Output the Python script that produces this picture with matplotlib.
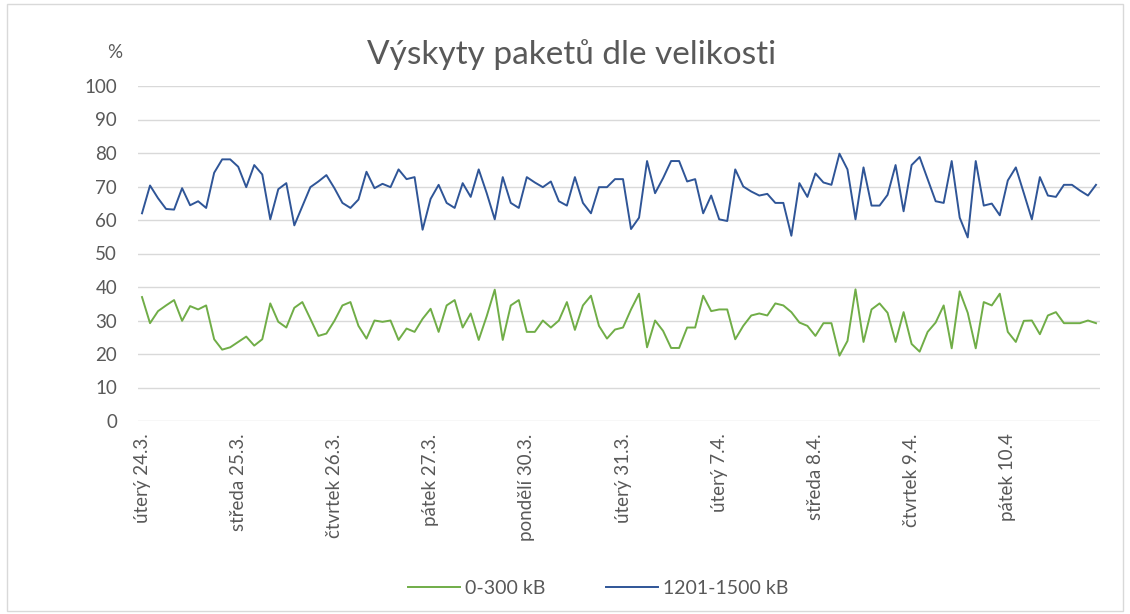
import numpy as np
import matplotlib.pyplot as plt
from matplotlib.patches import Rectangle

plt.rcParams['font.family'] = ['Lato', 'DejaVu Sans']

# podíl paketů 0-300 kB (%), 12 měření za den
small = [37.0, 29.2, 32.8, 34.5, 36.1, 29.9, 34.3, 33.3, 34.5, 24.4, 21.3, 22.0,
         23.6, 25.2, 22.5, 24.4, 35.1, 29.6, 27.9, 33.8, 35.5, 30.5, 25.4, 26.1,
         29.9, 34.5, 35.5, 28.4, 24.6, 30.0, 29.6, 30.0, 24.2, 27.6, 26.6, 30.5,
         33.5, 26.6, 34.5, 36.1, 27.9, 32.1, 24.2, 31.3, 39.2, 24.2, 34.5, 36.1,
         26.6, 26.6, 30.0, 27.9, 30.0, 35.5, 27.2, 34.5, 37.4, 28.4, 24.6, 27.3,
         27.9, 33.3, 38.0, 22.0, 30.0, 26.9, 21.8, 21.8, 27.9, 27.9, 37.4, 32.8,
         33.3, 33.3, 24.4, 28.4, 31.5, 32.1, 31.5, 35.1, 34.5, 32.5, 29.4, 28.4,
         25.4, 29.2, 29.2, 19.5, 23.9, 39.3, 23.6, 33.3, 35.1, 32.3, 23.6, 32.5,
         23.0, 20.7, 26.6, 29.4, 34.5, 21.7, 38.7, 32.3, 21.7, 35.5, 34.5, 38.0,
         26.6, 23.6, 29.9, 30.0, 25.9, 31.5, 32.5, 29.2, 29.2, 29.2, 30.0, 29.2]

# podíl paketů 1201-1500 kB (%)
large = [62.0, 70.3, 66.5, 63.3, 63.1, 69.5, 64.4, 65.6, 63.6, 74.1, 78.1, 78.1,
         75.9, 69.8, 76.4, 73.6, 60.2, 69.2, 71.0, 58.4, 64.1, 69.8, 71.5, 73.4,
         69.5, 65.1, 63.6, 66.1, 74.4, 69.5, 70.8, 69.8, 75.1, 72.2, 72.8, 57.1,
         66.3, 70.5, 65.1, 63.6, 71.0, 66.9, 75.1, 68.0, 60.2, 72.8, 65.1, 63.6,
         72.8, 71.2, 69.8, 71.5, 65.6, 64.3, 72.8, 65.1, 62.0, 69.8, 69.8, 72.2,
         72.2, 57.3, 60.7, 77.6, 68.0, 72.5, 77.6, 77.6, 71.5, 72.2, 62.0, 67.3,
         60.2, 59.7, 75.1, 70.0, 68.5, 67.3, 67.8, 65.1, 65.1, 55.3, 71.0, 66.9,
         73.9, 71.2, 70.5, 79.8, 75.1, 60.2, 75.7, 64.3, 64.3, 67.5, 76.4, 62.6,
         76.4, 78.8, 72.2, 65.6, 65.1, 77.6, 60.7, 54.8, 77.6, 64.3, 64.9, 61.4,
         71.8, 75.7, 68.0, 60.2, 72.8, 67.3, 66.9, 70.5, 70.5, 68.8, 67.3, 70.5]

day_labels = ['úterý 24.3.', 'středa 25.3.', 'čtvrtek 26.3.', 'pátek 27.3.',
              'pondělí 30.3.', 'úterý 31.3.', 'úterý 7.4.', 'středa 8.4.',
              'čtvrtek 9.4.', 'pátek 10.4']
per_day = 12

W, H = 1130, 614
fig = plt.figure(figsize=(W / 100, H / 100), dpi=100)
ax = fig.add_axes([138 / W, 1 - 421 / H, (1100 - 138) / W, (421 - 86) / H])

x = np.arange(len(small))
ax.plot(x, small, color='#70AD47', lw=1.4, label='0-300 kB')
ax.plot(x, large, color='#2F5597', lw=1.4, label='1201-1500 kB')

ax.set_xlim(-0.5, len(small) - 0.5)
ax.set_ylim(0, 100)
ax.set_yticks(range(0, 101, 10))
ax.set_xticks(np.arange(len(day_labels)) * per_day)
ax.set_xticklabels(day_labels, rotation=90, va='top', ha='center')
ax.tick_params(axis='both', length=0, labelsize=13.5, labelcolor='#595959')
ax.tick_params(axis='x', pad=9)
ax.tick_params(axis='y', pad=15)
ax.grid(axis='y', color='#D9D9D9', lw=1)
ax.set_axisbelow(True)
for s in ax.spines.values():
    s.set_visible(False)

fig.text(572 / W, 1 - 55 / H, 'Výskyty paketů dle velikosti', ha='center', va='center',
         fontsize=24, color='#595959')
fig.text(115 / W, 1 - 52 / H, '%', ha='center', va='center', fontsize=13.5, color='#595959')

fig.legend(loc='center', bbox_to_anchor=(598 / W, 1 - 588 / H), ncol=2, frameon=False,
           handlelength=2.7, columnspacing=3.1, handletextpad=0.25, fontsize=14,
           labelcolor='#595959')

fig.patches.append(Rectangle((7 / W, 3 / H), (1123 - 7) / W, (610 - 3) / H,
                             transform=fig.transFigure, fill=False, ec='#D9D9D9', lw=1))

fig.savefig('out.png', dpi=100)
